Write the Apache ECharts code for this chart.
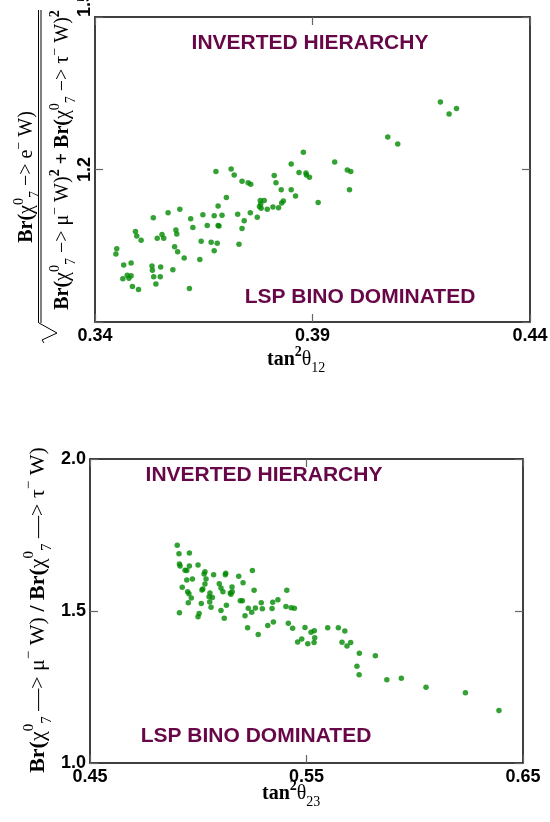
<!DOCTYPE html>
<html>
<head>
<meta charset="utf-8">
<script src="https://cdn.jsdelivr.net/npm/echarts@6/dist/echarts.min.js"></script>
<style>
  html, body { margin: 0; padding: 0; background: #fff; }
  #chart { width: 550px; height: 822px; }
</style>
</head>
<body>
<div id="chart"></div>
<script>
// top panel: tan^2 theta12 vs sqrt ratio
var topX = [0.3879, 0.3851, 0.3869, 0.3885, 0.3886, 0.3893, 0.3678, 0.3713, 0.3720, 0.3738,
  0.3752, 0.3758, 0.3812, 0.3816, 0.3828, 0.3851, 0.3861, 0.3913, 0.3702, 0.3683,
  0.3780, 0.3789, 0.3781, 0.3778, 0.3782, 0.3796, 0.3809, 0.3822, 0.3829, 0.3833,
  0.3757, 0.3728, 0.3743, 0.3773, 0.3738, 0.3731, 0.3568, 0.3595, 0.3534, 0.3620,
  0.3648, 0.3674, 0.3692, 0.3658, 0.3683, 0.3685, 0.3625, 0.3586, 0.3588, 0.3554,
  0.3543, 0.3558, 0.3493, 0.3496, 0.3506, 0.3644, 0.3667, 0.3681, 0.3674, 0.3583,
  0.3590, 0.3605, 0.3641, 0.3450, 0.3448, 0.3466, 0.3483, 0.3531, 0.3532, 0.3551,
  0.3579, 0.3474, 0.3483, 0.3464, 0.3478, 0.3535, 0.3550, 0.3486, 0.3500, 0.3540,
  0.3617, 0.4194, 0.4231, 0.4214, 0.4073, 0.4096, 0.3951, 0.3980, 0.3988, 0.3985];
var topY = [1.234, 1.211, 1.194, 1.193, 1.189, 1.185, 1.196, 1.201, 1.189, 1.177,
  1.174, 1.171, 1.188, 1.174, 1.160, 1.160, 1.148, 1.135, 1.145, 1.128,
  1.139, 1.139, 1.132, 1.127, 1.124, 1.122, 1.126, 1.125, 1.134, 1.138,
  1.115, 1.112, 1.099, 1.106, 1.084, 1.053, 1.115, 1.122, 1.105, 1.103,
  1.111, 1.109, 1.110, 1.090, 1.090, 1.089, 1.086, 1.081, 1.073, 1.072,
  1.065, 1.065, 1.078, 1.069, 1.061, 1.059, 1.057, 1.055, 1.040, 1.048,
  1.038, 1.026, 1.023, 1.044, 1.034, 1.012, 1.016, 1.010, 1.002, 1.008,
  1.003, 0.992, 0.991, 0.985, 0.986, 0.989, 0.989, 0.970, 0.964, 0.975,
  0.966, 1.333, 1.320, 1.309, 1.264, 1.250, 1.215, 1.199, 1.196, 1.160];

// bottom panel: tan^2 theta23 vs Br ratio
var botX = [0.4903, 0.4911, 0.4959, 0.4913, 0.4916, 0.4959, 0.4999, 0.4939, 0.4947, 0.5031,
  0.5027, 0.5071, 0.5127, 0.5125, 0.5187, 0.5250, 0.4947, 0.4973, 0.5036, 0.5031,
  0.5097, 0.5207, 0.4926, 0.5021, 0.5017, 0.5105, 0.5156, 0.4951, 0.4957, 0.4968,
  0.5054, 0.5050, 0.5065, 0.5114, 0.5148, 0.5151, 0.5157, 0.5258, 0.5194, 0.5204,
  0.4954, 0.5014, 0.5053, 0.5059, 0.5130, 0.5231, 0.5264, 0.5291, 0.5105, 0.5247,
  0.4913, 0.5004, 0.4999, 0.5216, 0.5120, 0.5344, 0.5341, 0.5347, 0.5228, 0.5321,
  0.5277, 0.5368, 0.5409, 0.5405, 0.5296, 0.5429, 0.5444, 0.5416, 0.5436, 0.5493,
  0.5521, 0.5536, 0.5459, 0.5478, 0.5506, 0.5535, 0.5538, 0.5598, 0.5647, 0.5677,
  0.5664, 0.5687, 0.5704, 0.5744, 0.5733, 0.5743, 0.5818, 0.5871, 0.5938, 0.6052,
  0.6234, 0.6389];
var botY = [1.716, 1.688, 1.691, 1.655, 1.648, 1.648, 1.651, 1.634, 1.633, 1.629,
  1.622, 1.619, 1.624, 1.619, 1.614, 1.633, 1.602, 1.605, 1.605, 1.589,
  1.590, 1.593, 1.578, 1.572, 1.569, 1.576, 1.579, 1.563, 1.557, 1.543,
  1.559, 1.547, 1.544, 1.563, 1.559, 1.555, 1.563, 1.568, 1.534, 1.534,
  1.527, 1.525, 1.530, 1.512, 1.519, 1.509, 1.510, 1.527, 1.502, 1.496,
  1.494, 1.492, 1.481, 1.484, 1.476, 1.529, 1.508, 1.464, 1.445, 1.452,
  1.423, 1.537, 1.568, 1.515, 1.507, 1.511, 1.509, 1.460, 1.443, 1.446,
  1.430, 1.435, 1.398, 1.408, 1.392, 1.396, 1.412, 1.445, 1.445, 1.434,
  1.397, 1.385, 1.396, 1.361, 1.318, 1.290, 1.353, 1.274, 1.279, 1.249,
  1.231, 1.173];

var topTicksX = [0.34, 0.39, 0.44];
var topTicksY = [1.2, 1.5];
var botTicksX = [0.45, 0.55, 0.65];
var botTicksY = [1.0, 1.5, 2.0];

function pairs(xs, ys) {
  var out = [];
  for (var i = 0; i < xs.length; i++) out.push([xs[i], ys[i]]);
  return out;
}

var SANS = '"Liberation Sans", Arial, sans-serif';
var SERIF = '"Liberation Serif", "Times New Roman", serif';
var MAROON = '#670748';
var GREEN = '#008a00';

var frame = { show: true, onZero: false, lineStyle: { color: '#000', width: 1.5 } };
var tick = { show: true, inside: true, length: 8, lineStyle: { color: '#666', width: 1.2 } };

function xAx(grid, min, max, step, ticks, show) {
  return {
    type: 'value', gridIndex: grid, position: show ? 'bottom' : 'top',
    min: min, max: max, interval: step,
    axisLine: frame, axisTick: tick, splitLine: { show: false },
    axisLabel: {
      show: show, margin: 5, color: '#000',
      fontFamily: SANS, fontWeight: 'bold', fontSize: 18,
      formatter: function (v) {
        for (var i = 0; i < ticks.length; i++) {
          if (Math.abs(v - ticks[i]) < 1e-6) return ticks[i].toFixed(2);
        }
        return '';
      }
    }
  };
}

function yAx(grid, min, max, step, ticks, show, rot) {
  return {
    type: 'value', gridIndex: grid, position: show ? 'left' : 'right',
    min: min, max: max, interval: step,
    axisLine: frame, axisTick: tick, splitLine: { show: false },
    axisLabel: {
      show: show, margin: rot ? 1 : 4, rotate: rot, color: '#000',
      fontFamily: SANS, fontWeight: 'bold', fontSize: 18,
      alignMaxLabel: rot ? 'left' : null,
      formatter: function (v) {
        for (var i = 0; i < ticks.length; i++) {
          if (Math.abs(v - ticks[i]) < 1e-6) return ticks[i].toFixed(1);
        }
        return '';
      }
    }
  };
}

function makeRich(size) {
  var small = Math.round(size * 0.7);
  var shift = Math.round(size * 0.8);
  return {
    b: { fontFamily: SERIF, fontWeight: 'bold', fontSize: size, lineHeight: size + 4, fill: '#000' },
    n: { fontFamily: SERIF, fontSize: size, lineHeight: size + 4, fill: '#000' },
    p: { fontFamily: SERIF, fontSize: small, lineHeight: small, padding: [0, 0, shift, 0], fill: '#000' },
    pb: { fontFamily: SERIF, fontWeight: 'bold', fontSize: small, lineHeight: small, padding: [0, 0, shift, 0], fill: '#000' },
    s: { fontFamily: SERIF, fontSize: small, lineHeight: small, padding: [shift, 0, 0, 0], fill: '#000' }
  };
}
var rich20 = makeRich(20);
var rich22 = makeRich(22);

function br(arrow, particle) {
  return '{b|Br(}{n|χ}{p|0}{s|7}{n| ' + arrow + ' ' + particle + '}{p|−}{n| W)}';
}

function mathText(x, y, str, rotate, align, rich) {
  return {
    type: 'text', x: x, y: y, rotation: rotate ? Math.PI / 2 : 0,
    style: { text: str, rich: rich || rich20, align: align || 'center', verticalAlign: 'middle' }
  };
}

function note(x, y, str) {
  return {
    type: 'text', x: x, y: y,
    style: {
      text: str, fill: MAROON, font: 'bold 21px ' + SANS,
      align: 'center', verticalAlign: 'middle'
    }
  };
}

var chart = echarts.init(document.getElementById('chart'));
chart.setOption({
  backgroundColor: '#fff',
  animation: false,
  grid: [
    { left: 95, top: 17, width: 435, height: 305, outerBoundsMode: 'none', containLabel: false },
    { left: 90, top: 459, width: 433, height: 304, outerBoundsMode: 'none', containLabel: false }
  ],
  xAxis: [
    xAx(0, 0.34, 0.44, 0.05, topTicksX, true),
    xAx(0, 0.34, 0.44, 0.05, topTicksX, false),
    xAx(1, 0.45, 0.65, 0.1, botTicksX, true),
    xAx(1, 0.45, 0.65, 0.1, botTicksX, false)
  ],
  yAxis: [
    yAx(0, 0.9, 1.5, 0.3, topTicksY, true, 90),
    yAx(0, 0.9, 1.5, 0.3, topTicksY, false, 0),
    yAx(1, 1.0, 2.0, 0.5, botTicksY, true, 0),
    yAx(1, 1.0, 2.0, 0.5, botTicksY, false, 0)
  ],
  series: [
    {
      type: 'scatter', xAxisIndex: 0, yAxisIndex: 0, symbolSize: 5.5,
      itemStyle: { color: GREEN }, data: pairs(topX, topY)
    },
    {
      type: 'scatter', xAxisIndex: 2, yAxisIndex: 2, symbolSize: 5.5,
      itemStyle: { color: GREEN }, data: pairs(botX, botY)
    }
  ],
  graphic: [
    note(310, 43, 'INVERTED HIERARCHY'),
    note(360, 297, 'LSP BINO DOMINATED'),
    note(264, 475, 'INVERTED HIERARCHY'),
    note(256, 736, 'LSP BINO DOMINATED'),
    // top y label: sqrt of ratio
    mathText(27, 177, br('−>', 'e'), true),
    mathText(63, 160, br('−>', 'μ') + '{pb|2}{b| + }' + br('−>', 'τ') + '{pb|2}', true),
    { type: 'line', shape: { x1: 38.5, y1: 10, x2: 38.5, y2: 323 }, style: { stroke: '#000', lineWidth: 1 } },
    { type: 'line', shape: { x1: 41, y1: 10, x2: 41, y2: 323 }, style: { stroke: '#000', lineWidth: 1 } },
    { type: 'polyline', shape: { points: [[39, 323], [57, 333], [42, 340], [44, 343]] }, style: { stroke: '#000', lineWidth: 1, fill: null } },
    // bottom y label
    mathText(38, 610, br('—>', 'μ') + '{b| / }' + br('—>', 'τ'), true, 'center', rich22),
    // x labels
    mathText(267, 360, '{b|tan}{pb|2}{n|θ}{s|12}', false, 'left'),
    mathText(262, 794, '{b|tan}{pb|2}{n|θ}{s|23}', false, 'left')
  ]
});
</script>
</body>
</html>
